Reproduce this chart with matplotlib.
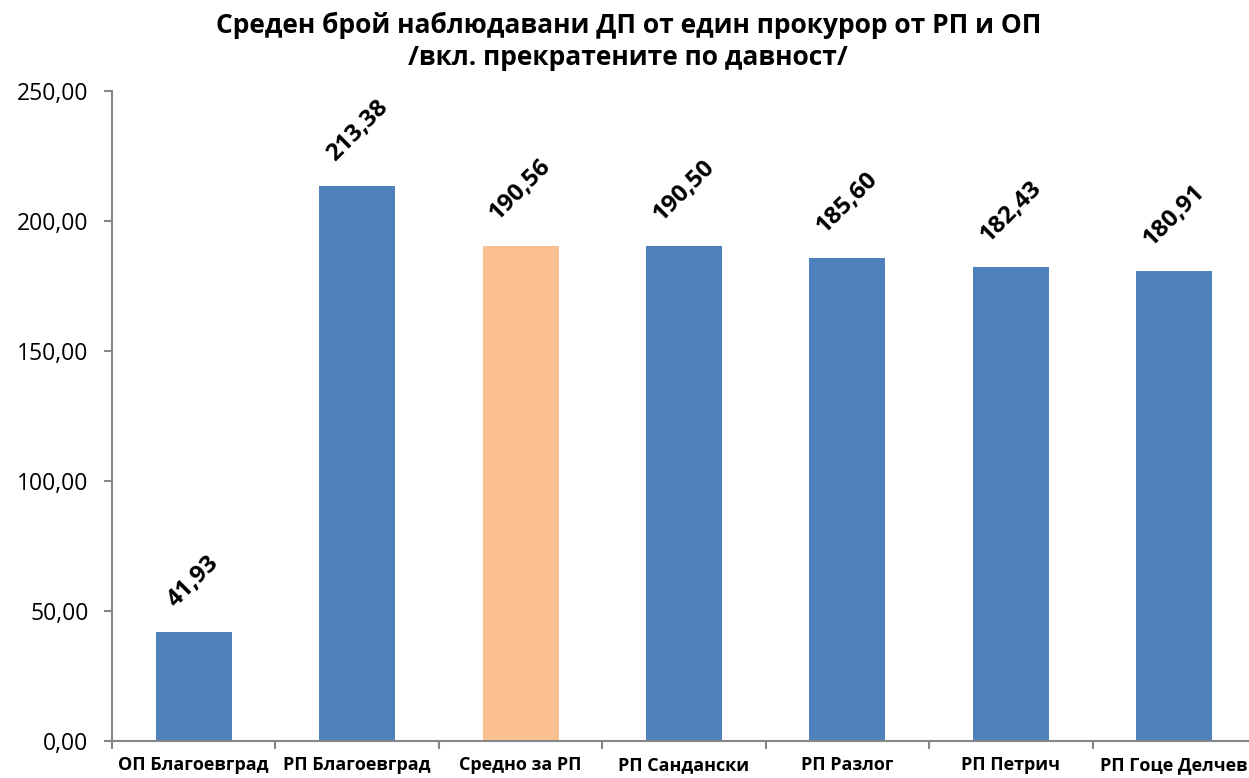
import matplotlib.pyplot as plt
import numpy as np

categories = ["ОП Благоевград", "РП Благоевград", "Средно за РП", "РП Сандански",
              "РП Разлог", "РП Петрич", "РП Гоце Делчев"]
values = [41.93, 213.38, 190.56, 190.50, 185.60, 182.43, 180.91]
bar_colors = ["#4F81BD", "#4F81BD", "#FAC090", "#4F81BD", "#4F81BD", "#4F81BD", "#4F81BD"]
y_ticks = [0, 50, 100, 150, 200, 250]

plt.rcParams['font.family'] = ['Open Sans', 'DejaVu Sans']


def fmt(v):
    return "{:.2f}".format(v).replace(".", ",")


def main():
    fig = plt.figure(figsize=(12.49, 7.78), dpi=100)
    ax = fig.add_axes([112 / 1249, 37 / 778, (1256 - 112) / 1249, 650 / 778])
    x = np.arange(len(categories))
    ax.bar(x, values, width=0.465, color=bar_colors)
    for xi, v in zip(x, values):
        ax.annotate(fmt(v), (xi, v), xytext=(0, 20), textcoords="offset pixels",
                    ha="center", va="bottom", rotation=45, fontsize=17.5, fontweight="bold")
    ax.set_xlim(-0.5, len(categories) - 0.5)
    ax.set_ylim(0, 250)
    ax.set_yticks(y_ticks)
    ax.set_yticklabels([fmt(t) for t in y_ticks], fontsize=16.5)
    ax.set_xticks(x)
    ax.set_xticklabels(categories, fontsize=13, fontweight="bold")
    ax.tick_params(axis="x", length=0, pad=11)
    ax.set_xticks(np.arange(len(categories) + 1) - 0.5, minor=True)
    ax.tick_params(axis="x", which="minor", length=6, color="#868686", width=1.5)
    ax.tick_params(axis="y", length=6, color="#868686", width=1.5, pad=11)
    for s in ["top", "right"]:
        ax.spines[s].set_visible(False)
    for s in ["left", "bottom"]:
        ax.spines[s].set_color("#868686")
        ax.spines[s].set_linewidth(1.5)
    fig.suptitle("Среден брой наблюдавани ДП от един прокурор от РП и ОП\n/вкл. прекратените по давност/",
                 x=0.503, y=0.985, fontsize=19, fontweight="bold", linespacing=1.25)
    fig.savefig("out.png", dpi=100)


if __name__ == "__main__":
    main()
